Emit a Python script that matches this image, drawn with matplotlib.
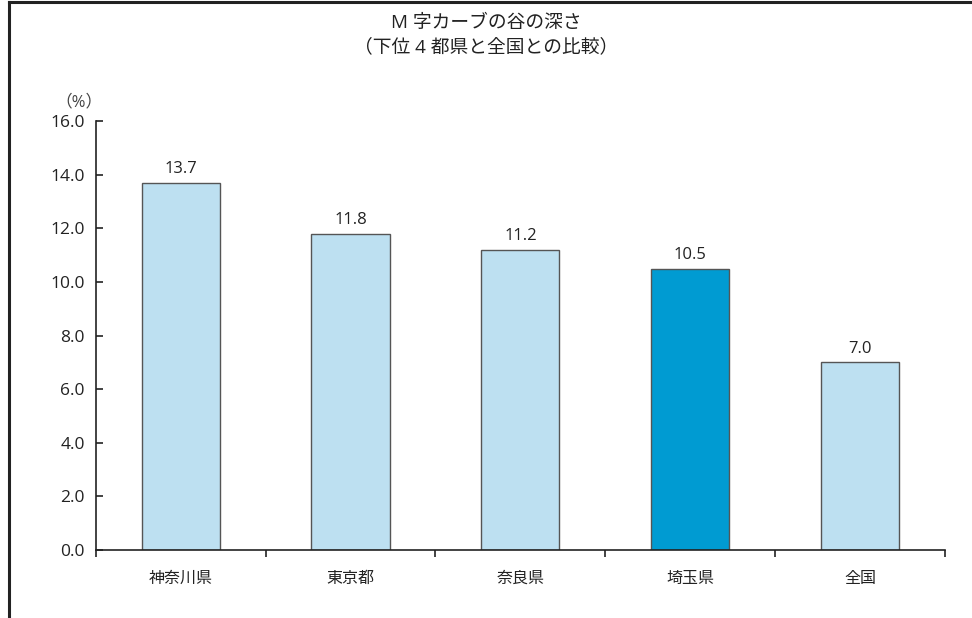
import numpy as np
import matplotlib.pyplot as plt
from matplotlib.lines import Line2D

plt.rcParams['font.family'] = ['Open Sans', 'Noto Sans CJK JP', 'DejaVu Sans']

# data
regions = ['神奈川県', '東京都', '奈良県', '埼玉県', '全国']
depth = [13.7, 11.8, 11.2, 10.5, 7.0]
highlight = '埼玉県'

title = 'M 字カーブの谷の深さ\n（下位 4 都県と全国との比較）'

light = '#bde0f1'
dark = '#009bd2'

fig = plt.figure(figsize=(9.72, 6.18), dpi=100)
ax = fig.add_axes([0.0985, 0.11, 0.8738, 0.694])

x = np.arange(len(regions))
colors = [dark if r == highlight else light for r in regions]
bars = ax.bar(x, depth, width=0.46, color=colors, edgecolor='#555555', linewidth=1.0, zorder=2)

for xi, v in zip(x, depth):
	ax.text(xi, v + 0.2, '%.1f' % v, ha='center', va='bottom', fontsize=12, color='#222222')

ax.set_xlim(-0.5, len(regions) - 0.5)
ax.set_ylim(0, 16)
ax.set_yticks(np.arange(0, 16.1, 2))
ax.set_yticklabels(['%.1f' % t for t in np.arange(0, 16.1, 2)], fontsize=12.5, color='#222222')
ax.set_xticks(x)
ax.set_xticklabels(regions, fontsize=11.5, color='#222222')
ax.set_xticks(np.arange(-0.5, len(regions)), minor=True)
ax.tick_params(axis='x', which='major', length=0, pad=15)
ax.tick_params(axis='x', which='minor', length=5, width=1.2, direction='out', color='#222222')
ax.tick_params(axis='y', length=5, width=1.2, direction='in', color='#222222', pad=8)

for s in ['top', 'right']:
	ax.spines[s].set_visible(False)
for s in ['left', 'bottom']:
	ax.spines[s].set_linewidth(1.2)
	ax.spines[s].set_color('#222222')

fig.text(0.5, 0.978, title, ha='center', va='top', fontsize=13.5, color='#222222', linespacing=1.5)
fig.text(0.081, 0.834, '（%）', ha='center', va='center', fontsize=12, color='#444444')

# frame lines on the top and left of the picture
fig.add_artist(Line2D([0.0088, 1.0], [0.996, 0.996], transform=fig.transFigure, color='#222222', lw=2.2))
fig.add_artist(Line2D([0.0088, 0.0088], [0.0, 0.996], transform=fig.transFigure, color='#222222', lw=2.2))

fig.savefig('out.png', dpi=100)
